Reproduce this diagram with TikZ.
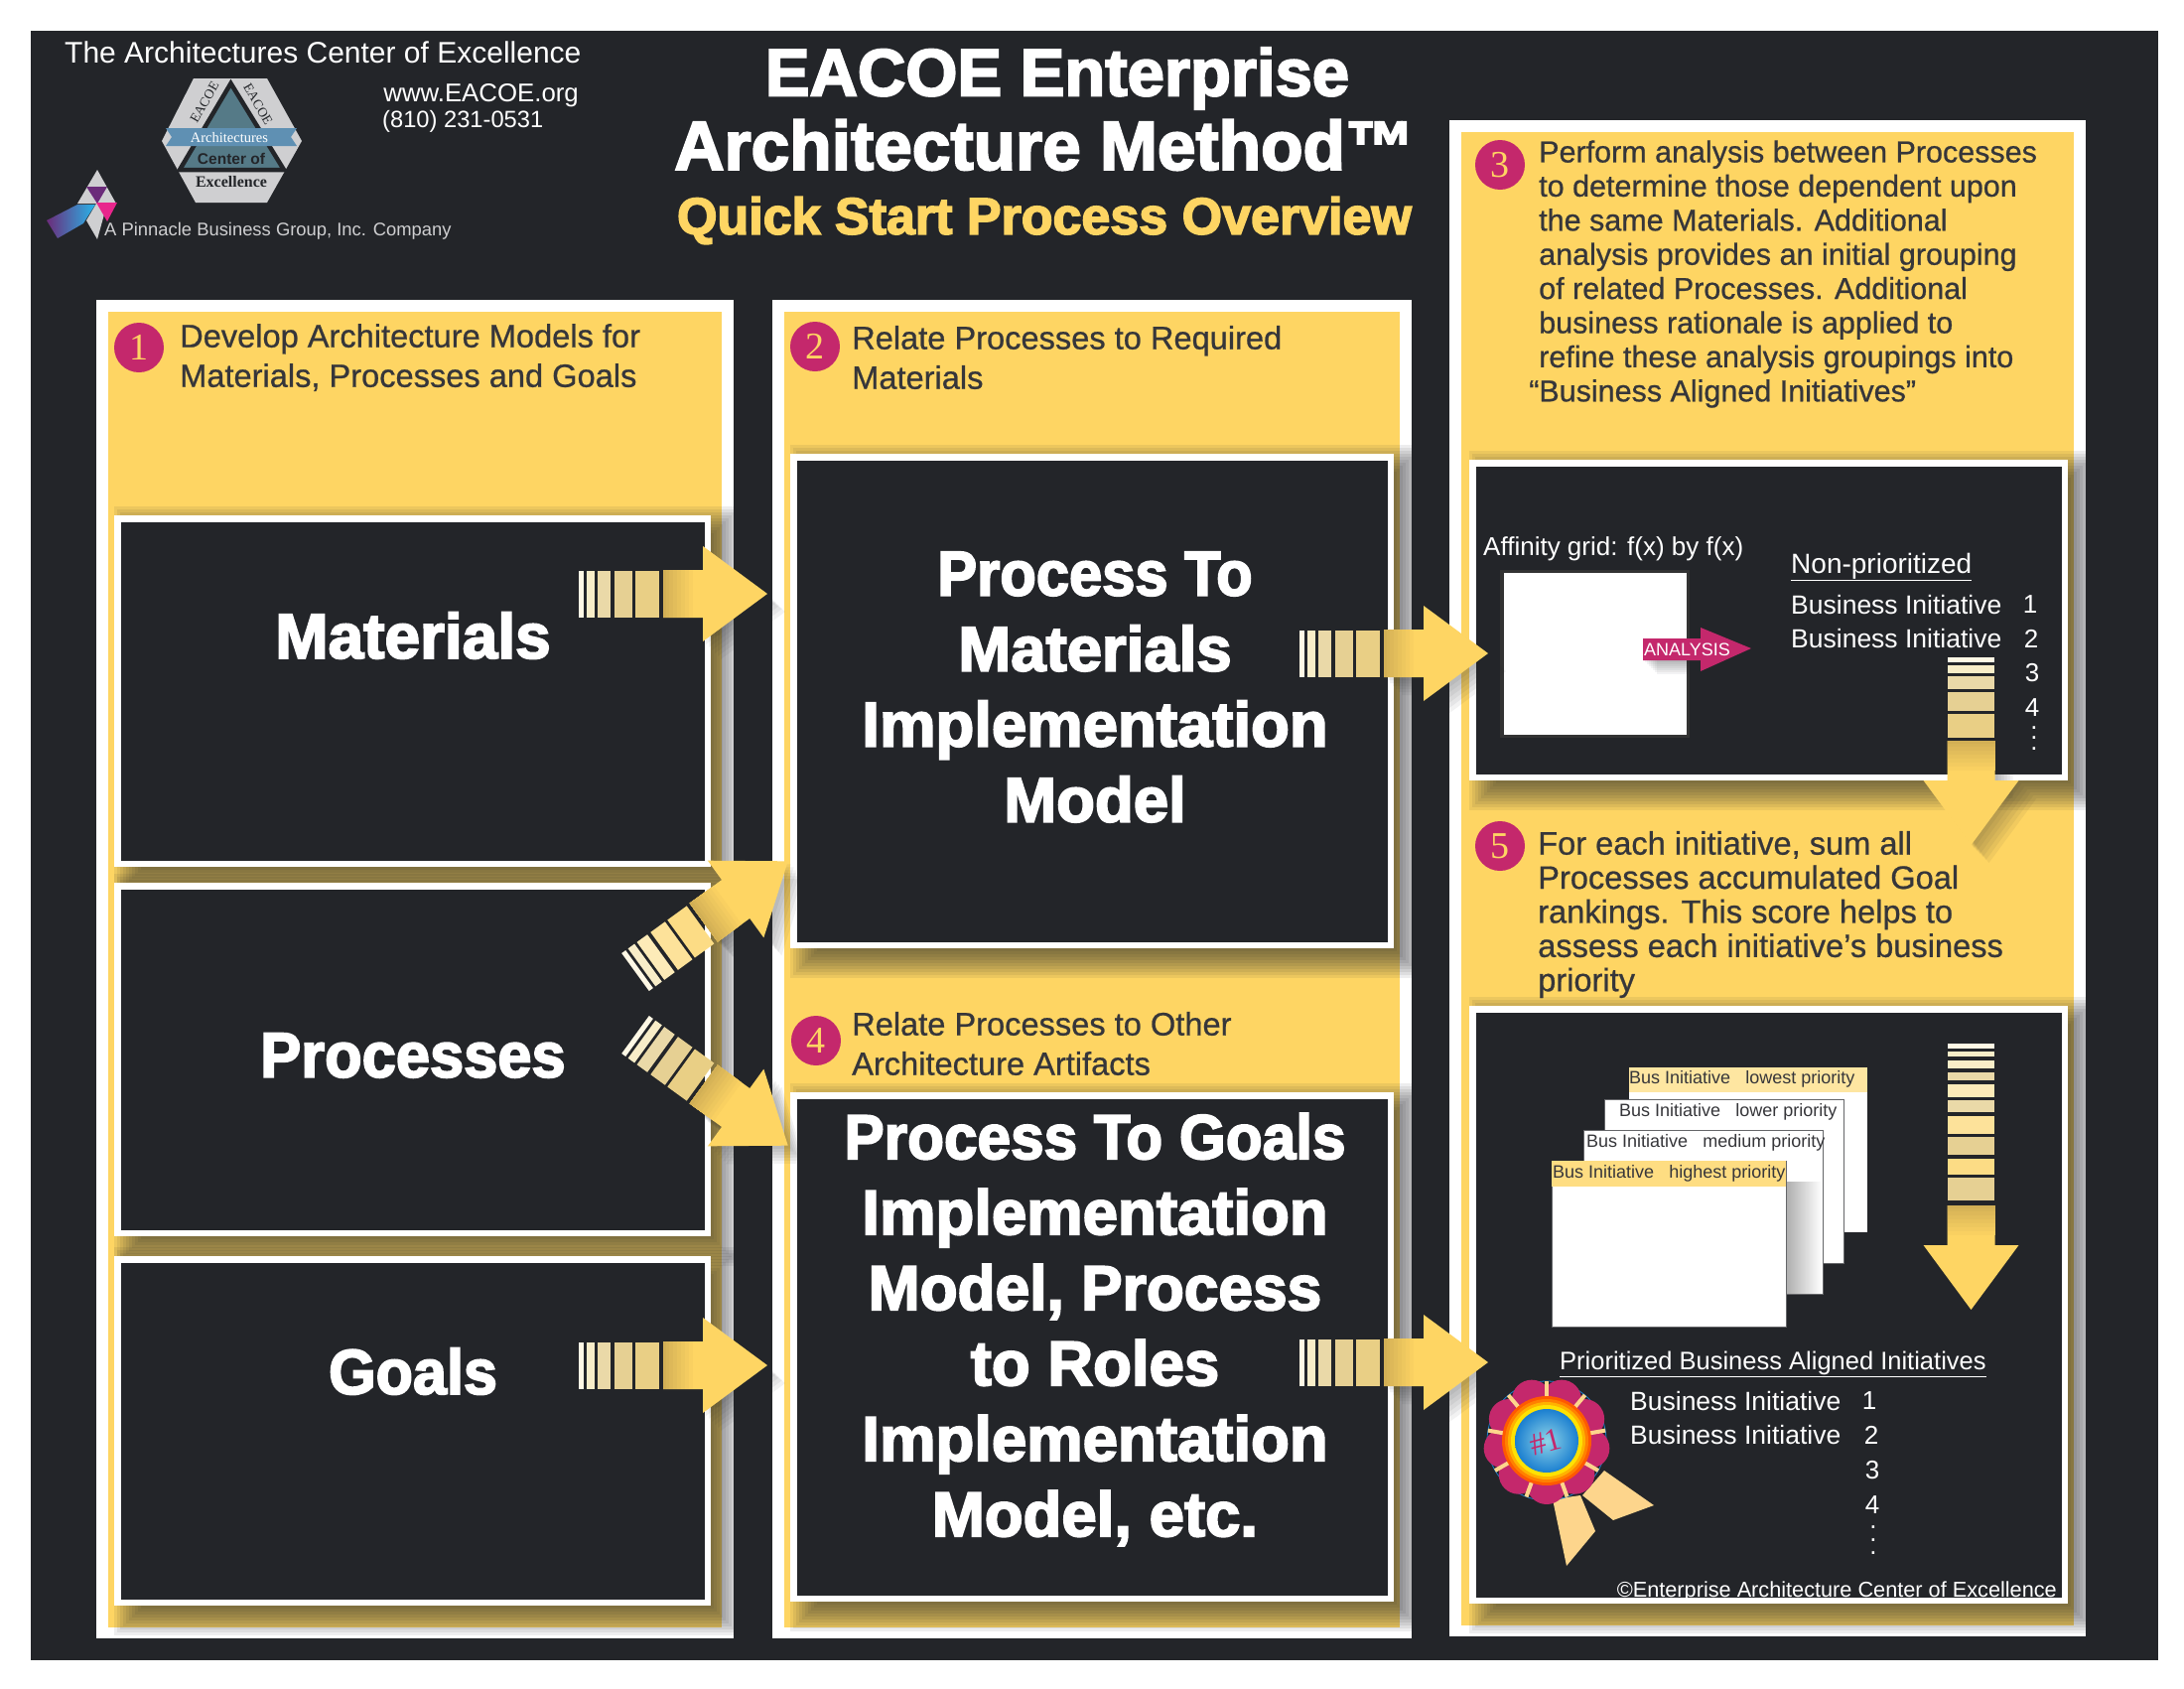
\documentclass[tikz,border=0pt]{standalone}
\usepackage{fontspec}
\setmainfont{Liberation Sans}
\newfontfamily\heavyfont{Liberation Sans Bold}[FakeBold=3]
\newfontfamily\mediumfont{Liberation Sans}[FakeBold=.7]
\newfontfamily\seriffont{Liberation Serif}
\definecolor{pagedark}{HTML}{232529}
\definecolor{panelgold}{HTML}{FED563}
\definecolor{shaftshade}{HTML}{C7A552}
\definecolor{inkdark}{HTML}{36363A}
\definecolor{badgered}{HTML}{C4286C}
\definecolor{ribbongold}{HTML}{FDD58C}
\definecolor{hexgray}{HTML}{CFCFD1}
\definecolor{hexteal}{HTML}{557A87}
\definecolor{hexblue}{HTML}{5F90B3}
\definecolor{stripeA}{HTML}{FFF8E5}
\definecolor{stripeB}{HTML}{F8EDC8}
\definecolor{stripeC}{HTML}{EAD9A8}
\definecolor{stripeD}{HTML}{E6D093}
\definecolor{stripeE}{HTML}{E9CF85}
\definecolor{lightC}{HTML}{FDEBB8}
\definecolor{lightD}{HTML}{FDE29A}
\definecolor{lightE}{HTML}{FCDC85}

% soft shadow of a rectangle
\newcommand{\softshadow}[4]{%
  \foreach \d in {0,3,...,27} {
    \fill[pagedark, fill opacity=.08] (#1+\d,#2-9+\d) rectangle (#3+30-\d,#4+30-\d);
  }}
% white framed dark box
\newcommand{\darkbox}[4]{%
  \softshadow{#1}{#2}{#3}{#4}
  \fill[white] (#1,#2) rectangle (#3,#4);
  \fill[pagedark] (#1+6.5,#2+6.5) rectangle (#3-6.5,#4-6.5);}
% white framed yellow panel
\newcommand{\goldpanel}[4]{%
  \fill[white] (#1,#2) rectangle (#3,#4);
  \fill[panelgold] (#1+12,#2+12) rectangle (#3-12,#4-11);}
% outline of the fat arrow, #1 is where the shaft begins
\newcommand{\arrowoutline}[1]{(#1,-24) -- (#1+40,-24) -- (#1+40,-48) -- (#1+105,0)
  -- (#1+40,48) -- (#1+40,24) -- (#1,24) -- cycle}
% x, y, angle, stripes, shaft start
\newcommand{\stripearrow}[5]{%
  \foreach \d in {3,6,...,18} {
    \fill[pagedark, fill opacity=.06, xshift=\d pt, yshift=-\d pt, shift={(#1,#2)}, rotate=#3] \arrowoutline{#5};
  }
  \begin{scope}[shift={(#1,#2)}, rotate=#3]
    \fill[panelgold] \arrowoutline{#5};
    \foreach \w/\k in {30/10,26/20,22/30,18/40,14/50,10/60,6/70,3/80} {
      \fill[shaftshade!\k!panelgold] (#5,-24) rectangle (#5+\w,24);
    }
    \foreach \a/\b/\c in {#4} {
      \fill[\c] (\a,-23.5) rectangle (\b,23.5);
    }
  \end{scope}}

\begin{document}
\begin{tikzpicture}[
    x=1pt, y=-1pt,
    every node/.style={inner sep=0pt},
    bodytext/.style={anchor=west, align=left, text=inkdark, font=\mediumfont\fontsize{32.6}{40}\selectfont},
    sidetext/.style={anchor=west, align=left, text=inkdark, font=\mediumfont\fontsize{30.5}{34.4}\selectfont},
    badge/.style={circle, fill=badgered, text=panelgold, minimum size=50pt, font=\seriffont\fontsize{38}{38}\selectfont},
    heavylabel/.style={text=white, align=center, font=\heavyfont\fontsize{64}{76}\selectfont},
    modellabel/.style={text=white, align=center, font=\heavyfont\fontsize{63.5}{76}\selectfont},
    whitetext/.style={text=white, anchor=west, font=\fontsize{26.5}{26.5}\selectfont},
    numtext/.style={text=white, font=\fontsize{26}{26}\selectfont},
    pagetext/.style={text=inkdark, anchor=west, font=\fontsize{18}{18}\selectfont},
    logotext/.style={font=\seriffont\fontsize{14.5}{14.5}\selectfont},
]
\useasboundingbox (0,0) rectangle (2200,1700);
\fill[pagedark] (31,31) rectangle (2174,1672);

% Header
\node[text=white, anchor=west, font=\fontsize{30}{30}\selectfont] (centre) at (65,53) {The Architectures Center of Excellence};
\node[text=white, anchor=east, font=\fontsize{25.8}{25.8}\selectfont] (web) at (583,96) {www.EACOE.org};
\node[text=white, anchor=west, font=\fontsize{23.7}{23.7}\selectfont] (phone) at (385,122) {(810) 231-0531};
\node[text=hexgray, anchor=west, font=\fontsize{18.4}{18.4}\selectfont] (pinnacle) at (105,233) {A Pinnacle Business Group, Inc. Company};

% Title
\node[heavylabel, font=\heavyfont\fontsize{67}{67}\selectfont] (title1) at (1065,79) {EACOE Enterprise};
\node[heavylabel, font=\heavyfont\fontsize{69.5}{69.5}\selectfont] (title2) at (1052,146) {Architecture Method™};
\node[heavylabel, text=panelgold, font=\heavyfont\fontsize{52}{52}\selectfont] (title3) at (1052,222) {Quick Start Process Overview};

% EACOE logo
\fill[hexgray] (195,79) -- (269,79) -- (304,142) -- (269,204) -- (197,204) -- (163,142) -- cycle;
\fill[hexteal, draw=pagedark, line width=4.5pt, line join=miter] (232.5,84) -- (286,171) -- (181,171) -- cycle;
\fill[hexblue] (167,129) -- (299,129) -- (293,138) -- (299,147) -- (167,147) -- (173,138) -- cycle;
\node[logotext, text=white] (logoarch) at (231,139) {Architectures};
\node[font=\bfseries\fontsize{15.5}{15.5}\selectfont, text=pagedark] (logocenter) at (233,160) {Center of};
\node[logotext, font=\seriffont\bfseries\fontsize{16}{16}\selectfont, text=pagedark] (logoexc) at (233,183) {Excellence};
\node[logotext, text=pagedark, rotate=60, font=\seriffont\fontsize{13.5}{13.5}\selectfont] (logoleft) at (206,103) {EACOE};
\node[logotext, text=pagedark, rotate=-60, font=\seriffont\fontsize{13.5}{13.5}\selectfont] (logoright) at (260,105) {EACOE};

% Pinnacle logo
\definecolor{pinnpurple}{HTML}{6B2C7A}
\definecolor{pinnpink}{HTML}{E8268C}
\definecolor{pinnblue}{HTML}{29B5EA}
\fill[hexgray] (98,171) -- (117,205) -- (78,205) -- cycle;
\fill[hexgray] (108,205) -- (98,241) -- (87,222) -- (97,205) -- cycle;
\fill[pinnpurple] (87,188) -- (108,188) -- (98,205) -- cycle;
\fill[pinnpink] (97,204) -- (118,204) -- (108,223) -- cycle;
\shade[left color=pinnpurple, middle color=pinnblue!75!pinnpurple, right color=pinnblue] (47,222) -- (78,206) -- (96,206) -- (84,225) -- (58,240) -- cycle;

% Panels
\goldpanel{97}{302}{739}{1650}
\goldpanel{778}{302}{1422}{1650}
\goldpanel{1460}{121}{2101}{1648}

% Panel 1
\node[badge] (badge1) at (140,350) {1};
\node[bodytext] (text1) at (181,360) {Develop Architecture Models for\\Materials, Processes and Goals};
\darkbox{115}{519}{716}{873}
\darkbox{115}{889}{716}{1245}
\darkbox{115}{1265}{716}{1617}
\node[heavylabel] (materials) at (416,640) {Materials};
\node[heavylabel] (processes) at (416,1063) {\scalebox{.96}[1]{Processes}};
\node[heavylabel] (goals) at (416,1381) {\scalebox{.955}[1]{Goals}};

% Panel 2
\node[badge] (badge2) at (821,349) {2};
\node[bodytext] (text2) at (858,360) {Relate Processes to Required\\Materials};
\darkbox{796}{457}{1404}{955}
\node[modellabel] (model1) at (1103,692) {\scalebox{.94}[1]{Process To}\\Materials\\Implementation\\Model};
\node[badge] (badge4) at (822,1048) {4};
\node[bodytext] (text4) at (858,1051) {Relate Processes to Other\\Architecture Artifacts};
\darkbox{796}{1100}{1404}{1613}
\node[modellabel] (model2) at (1103,1339) {\scalebox{.95}[1]{Process To Goals}\\Implementation\\\scalebox{.98}[1]{Model, Process}\\to Roles\\Implementation\\Model, etc.};

% Panel 3
\node[badge] (badge3) at (1511,166) {3};
\node[sidetext] (text3) at (1550,276) {Perform analysis between Processes\\to determine those dependent upon\\the same Materials.  Additional\\analysis provides an initial grouping\\of related Processes.  Additional\\business rationale is applied to\\refine these analysis groupings into\\\hspace*{-10pt}“Business Aligned Initiatives”};
\darkbox{1480}{463}{2083}{786}
\node[whitetext, font=\fontsize{26}{26}\selectfont] (affinity) at (1494,553) {Affinity grid: f(x) by f(x)};
\fill[black!80!white] (1511,574) rectangle (1702,743);
\fill[white] (1515,577) rectangle (1699,740);
\foreach \d in {2,4,...,14} {
  \fill[pagedark, fill opacity=.05] (1655+\d,643+\d) rectangle (1713+\d,665+\d);
}
\fill[badgered] (1655,643) -- (1713,643) -- (1713,632) -- (1764,653) -- (1713,676) -- (1713,665) -- (1655,665) -- cycle;
\node[text=white, anchor=west, font=\fontsize{18}{18}\selectfont] (analysis) at (1656,654) {ANALYSIS};
\node[whitetext, font=\fontsize{28}{28}\selectfont] (nonprio) at (1804,571) {\underline{Non-prioritized}};
\node[whitetext] (init1) at (1804,609) {Business Initiative};
\node[whitetext] (init2) at (1804,643) {Business Initiative};
\node[numtext] (num1) at (2045,609) {1};
\node[numtext] (num2) at (2046,643) {2};
\node[numtext] (num3) at (2047,678) {3};
\node[numtext] (num4) at (2047,713) {4};
\node[text=white, align=center, font=\fontsize{26}{10.7}\selectfont] (more1) at (2049,743.5) {.\\.\\.};

% Panel 5
\node[badge] (badge5) at (1511,852) {5};
\node[sidetext, font=\mediumfont\fontsize{32.6}{34.4}\selectfont] (text5) at (1549,921) {For each initiative, sum all\\Processes accumulated Goal\\rankings.  This score helps to\\assess each initiative’s business\\priority};
\darkbox{1480}{1013}{2083}{1615}

% Stacked pages
\fill[white] (1641,1075) rectangle (1881,1241);
\fill[panelgold!60!white] (1641,1075) rectangle (1881,1100);
\node[pagetext] (page1) at (1641,1087) {Bus Initiative\ \ \ lowest priority};
\fill[white, draw=pagedark!70!white] (1616,1107) rectangle (1857,1272);
\node[pagetext] (page2) at (1631,1120) {Bus Initiative\ \ \ lower priority};
\fill[white, draw=pagedark!70!white] (1595,1138) rectangle (1836,1303);
\node[pagetext] (page3) at (1598,1151) {Bus Initiative\ \ \ medium priority};
\shade[left color=black!32, right color=white] (1799,1190) rectangle (1835,1302);
\fill[white, draw=pagedark!70!white] (1563,1169) rectangle (1799,1336);
\fill[panelgold!80!white] (1563,1169) rectangle (1799,1195);
\node[pagetext] (page4) at (1564,1182) {Bus Initiative\ \ \ highest priority};

% Prioritized list
\node[whitetext, font=\fontsize{25.5}{25.5}\selectfont] (prio) at (1571,1374) {\underline{Prioritized Business Aligned Initiatives}};
\node[whitetext] (init3) at (1642,1411) {Business Initiative};
\node[whitetext] (init4) at (1642,1445) {Business Initiative};
\node[numtext] (num5) at (1883,1411) {1};
\node[numtext] (num6) at (1885,1445) {2};
\node[numtext] (num7) at (1886,1481) {3};
\node[numtext] (num8) at (1886,1516) {4};
\node[text=white, align=center, font=\fontsize{26}{13}\selectfont] (more2) at (1887,1551) {.\\.\\.};
\node[text=white, anchor=base east, font=\fontsize{21.7}{21.7}\selectfont] (copyright) at (2072,1608) {©Enterprise Architecture Center of Excellence};

% Rosette
\definecolor{discinner}{HTML}{8FD5E8}
\definecolor{discmiddle}{HTML}{2AA8E0}
\definecolor{discouter}{HTML}{1B7FD0}
\fill[ribbongold] (1564,1510) -- (1592,1506) -- (1607,1542) -- (1578,1577) -- cycle;
\fill[ribbongold] (1594,1506) -- (1616,1481) -- (1666,1516) -- (1625,1531) -- cycle;
\draw[discouter, line width=.8pt] (1558,1451) circle (60);
\foreach \a in {0,40,...,320} {
  \fill[badgered] (1558,1451) ++(\a+10:44) circle (20);
}
\foreach \a in {0,40,...,320} {
  \draw[ribbongold, line width=4pt] (1558,1451) ++(\a+30:36) -- ++(\a+30:24);
}
\foreach \r/\c in {45/red!30!orange, 42/orange, 39/orange!60!yellow, 36/yellow!85!orange} {
  \fill[\c] (1558,1451) circle (\r);
}
\shade[inner color=discinner, middle color=discmiddle, outer color=discouter] (1558,1451) circle (32);
\node[text=badgered, rotate=15, font=\seriffont\fontsize{32}{32}\selectfont] (first) at (1557,1452) {\#1};

% Arrows
\stripearrow{583}{598}{0}{0/5/stripeA,8/16/stripeB,19/32/stripeC,36/54/stripeD,57/81/stripeE}{85}
\stripearrow{640}{979}{36}{0/5/stripeA,8/16/stripeB,19/32/lightC,36/54/lightD,57/81/lightE}{85}
\stripearrow{640}{1042}{-36}{0/5/stripeA,8/16/stripeB,19/32/stripeC,36/54/stripeD,57/81/stripeE}{85}
\stripearrow{583}{1375}{0}{0/5/stripeA,8/16/stripeB,19/32/stripeC,36/54/stripeD,57/81/stripeE}{85}
\stripearrow{1309}{658}{0}{0/5/stripeA,8/16/stripeB,19/32/stripeC,36/54/stripeD,57/81/stripeE}{85}
\stripearrow{1309}{1372}{0}{0/5/stripeA,8/16/stripeB,19/32/stripeC,36/54/stripeD,57/81/stripeE}{85}
\stripearrow{1985.5}{662}{-90}{0/5/stripeA,8/16/stripeB,19/32/stripeC,35/54/stripeD,57/81/stripeE}{84}
\stripearrow{1985.5}{1051}{-90}{0/5/stripeA,8/13/stripeB,17/25/stripeB,29/37/stripeC,41/54/lightC,57/69/stripeC,73/91/lightD,94/112/stripeD,116/132/lightE,135/158/stripeD}{163}

\end{tikzpicture}
\end{document}
